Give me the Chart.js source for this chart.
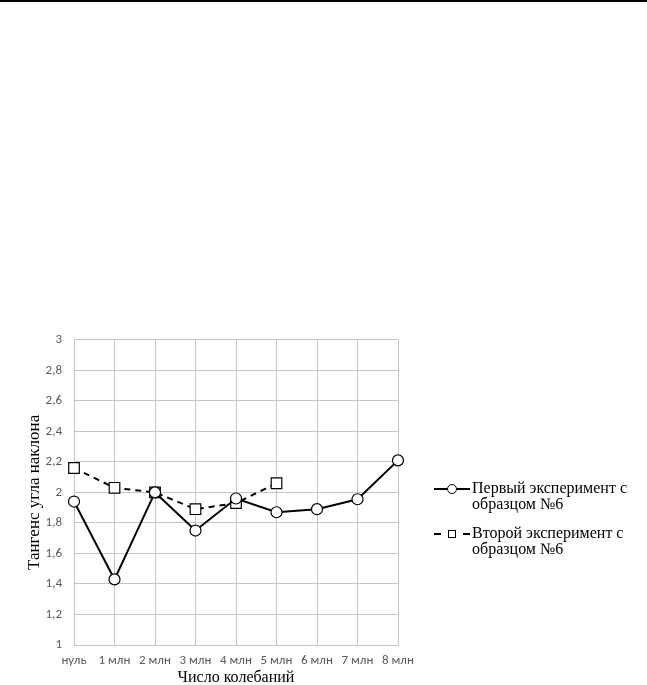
<!DOCTYPE html>
<html>
<head>
<meta charset="utf-8">
<script src="https://cdn.jsdelivr.net/npm/chart.js"></script>
<style>
  body { margin: 0; background: #fff; }
  #page { position: relative; width: 647px; height: 685px; overflow: hidden; border-top: 2px solid #000; box-sizing: border-box; }
  #wrap { position: absolute; left: 0; top: 318px; width: 647px; height: 367px; }
  #legend { position: absolute; left: 434px; top: 478px; font-family: "Liberation Serif", "DejaVu Serif", serif; font-size: 16px; color: #000; line-height: 16px; }
  .item { display: flex; align-items: flex-start; margin-bottom: 13px; }
  .item svg { flex: none; margin-top: 1px; margin-right: 2px; }
</style>
</head>
<body>
<div id="page">
  <div id="wrap"><canvas id="chart"></canvas></div>
  <div id="legend">
    <div class="item">
      <svg width="36" height="16"><line x1="0" y1="8" x2="36" y2="8" stroke="#000" stroke-width="2"/><circle cx="18" cy="8" r="4.5" fill="#fff" stroke="#000" stroke-width="1"/></svg>
      <div>Первый эксперимент с<br>образцом №6</div>
    </div>
    <div class="item">
      <svg width="36" height="16"><line x1="0" y1="8" x2="7" y2="8" stroke="#000" stroke-width="2"/><line x1="29" y1="8" x2="36" y2="8" stroke="#000" stroke-width="2"/><rect x="14.5" y="4.5" width="7" height="7" fill="#fff" stroke="#000" stroke-width="1"/></svg>
      <div>Второй эксперимент с<br>образцом №6</div>
    </div>
  </div>
</div>
<script>
const labels = ['нуль', '1 млн', '2 млн', '3 млн', '4 млн', '5 млн', '6 млн', '7 млн', '8 млн'];
const firstExperiment = [1.94, 1.43, 2.0, 1.75, 1.96, 1.87, 1.89, 1.955, 2.21];
const secondExperiment = [2.16, 2.03, 2.0, 1.89, 1.93, 2.06];
const yTicks = [1, 1.2, 1.4, 1.6, 1.8, 2, 2.2, 2.4, 2.6, 2.8, 3];

const tickFont = { family: 'Carlito, Lato, sans-serif', size: 13 };
const xTitleFont = { family: '"Liberation Serif", "DejaVu Serif", serif', size: 16 };
const yTitleFont = { family: '"Liberation Serif", "DejaVu Serif", serif', size: 17 };

new Chart(document.getElementById('chart'), {
  type: 'line',
  data: {
    labels: labels,
    datasets: [
      {
        label: 'Первый эксперимент с образцом №6',
        data: firstExperiment,
        borderColor: '#000',
        borderWidth: 2,
        pointStyle: 'circle',
        pointRadius: 5.5,
        pointBackgroundColor: '#fff',
        pointBorderColor: '#000',
        pointBorderWidth: 1.2,
        tension: 0
      },
      {
        label: 'Второй эксперимент с образцом №6',
        data: secondExperiment,
        borderColor: '#000',
        borderWidth: 2,
        borderDash: [6, 5],
        pointStyle: 'rect',
        pointRadius: 7.5,
        pointBackgroundColor: '#fff',
        pointBorderColor: '#000',
        pointBorderWidth: 1.2,
        tension: 0
      }
    ]
  },
  options: {
    responsive: true,
    maintainAspectRatio: false,
    animation: false,
    layout: { padding: { top: 2, right: 249, left: 0, bottom: 0 } },
    plugins: { legend: { display: false }, tooltip: { enabled: false } },
    scales: {
      x: {
        offset: false,
        grid: { color: '#c6c6c6', drawTicks: false },
        border: { color: '#c6c6c6' },
        ticks: { color: '#595959', font: tickFont, padding: 8, maxRotation: 0, autoSkip: false },
        title: { display: true, text: 'Число колебаний', color: '#000', font: xTitleFont, padding: { top: 1, bottom: 0 } },
        afterFit: (scale) => { scale.height = 42; }
      },
      y: {
        min: 1,
        max: 3,
        afterBuildTicks: (scale) => { scale.ticks = yTicks.map(v => ({ value: v })); },
        grid: { color: '#c6c6c6', drawTicks: false },
        border: { color: '#c6c6c6' },
        ticks: {
          color: '#595959', font: tickFont, padding: 12,
          callback: (v) => String(v).replace('.', ',')
        },
        title: { display: true, text: 'Тангенс угла наклона', color: '#000', font: yTitleFont, padding: { top: 24, bottom: 0 } },
        afterFit: (scale) => { scale.width = 74; }
      }
    }
  }
});
</script>
</body>
</html>
